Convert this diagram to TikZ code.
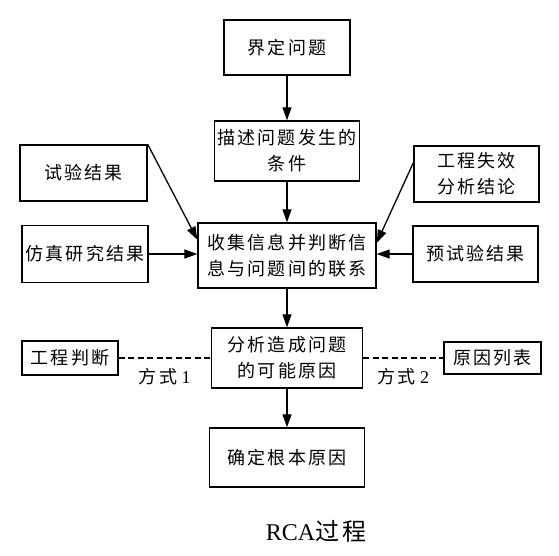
\documentclass[tikz,border=0pt]{standalone}
\usepackage{fontspec}
\setmainfont{Liberation Serif}
\newfontfamily\cjk[LetterSpace=12]{Noto Sans CJK SC}
\usetikzlibrary{arrows.meta}

\begin{document}
\begin{tikzpicture}[x=1pt, y=-1pt,
      box/.style={draw, rectangle, line width=1.4pt, align=center, inner sep=0pt, font=\cjk\fontsize{18}{26}\selectfont},
      flow/.style={line width=1.3pt, -{Triangle[length=13pt,width=9pt]}},
      link/.style={line width=1.3pt, dash pattern=on 6pt off 3.5pt},
      tag/.style={font=\fontsize{18}{20}\selectfont}
    ]
      \useasboundingbox (0,0) rectangle (559,556);

      \node[box, minimum width=126pt, minimum height=55pt] (defprob) at (287,47.5) {界定问题};
      \node[box, minimum width=145pt, minimum height=60pt] (desc) at (287,151) {描述问题发生的\\条件};
      \node[box, minimum width=178pt, minimum height=65pt] (collect) at (287,255.5) {收集信息并判断信\\息与问题间的联系};
      \node[box, minimum width=151pt, minimum height=60pt] (analyze) at (287,358) {分析造成问题\\的可能原因};
      \node[box, minimum width=155pt, minimum height=59pt] (root) at (287,457.5) {确定根本原因};

      \node[box, minimum width=127pt, minimum height=56pt] (test) at (83.5,173) {试验结果};
      \node[box, minimum width=126pt, minimum height=57pt] (sim) at (85,254) {仿真研究结果};
      \node[box, minimum width=125pt, minimum height=56pt] (fail) at (476.5,174) {工程失效\\分析结论};
      \node[box, minimum width=125pt, minimum height=56pt] (pretest) at (475.5,254) {预试验结果};
      \node[box, minimum width=96pt, minimum height=34pt] (judge) at (70,358) {工程判断};
      \node[box, minimum width=97pt, minimum height=32pt] (causes) at (492.5,358) {原因列表};

      \draw[flow] (defprob) -- (desc);
      \draw[flow] (desc) -- (collect);
      \draw[flow] (collect) -- (analyze);
      \draw[flow] (analyze) -- (root);

      \draw[flow] (test.north east) -- (collect.170);
      \draw[flow] (sim.east) -- (collect.west |- sim.east);
      \draw[flow] (fail.170) -- (collect.8);
      \draw[flow] (pretest.west) -- (collect.east |- pretest.west);

      \draw[link] (judge) -- node[tag, below=6pt] {{\cjk 方式} 1} (analyze);
      \draw[link] (analyze) -- node[tag, below=6pt] {{\cjk 方式} 2} (causes);

      \node[font=\fontsize{24}{26}\selectfont] (title) at (316,531) {RCA{\cjk 过程}};
    \end{tikzpicture}
\end{document}
